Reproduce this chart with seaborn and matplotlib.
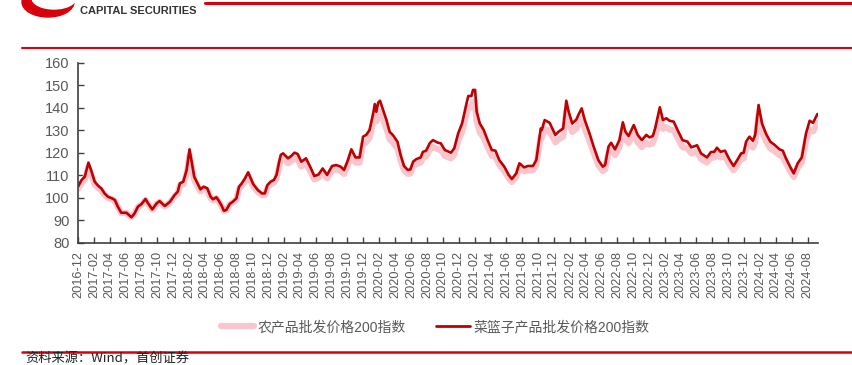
import matplotlib
matplotlib.use("Agg")
import matplotlib.pyplot as plt
import matplotlib.dates as mdates
from matplotlib.patches import Ellipse
import seaborn as sns
import pandas as pd

dates = [
    "2016-12-01","2016-12-15","2016-12-27","2017-01-10","2017-01-20","2017-02-03","2017-02-17","2017-02-28",
    "2017-03-13","2017-03-26","2017-04-11","2017-04-21","2017-05-03","2017-05-16","2017-06-05","2017-06-24",
    "2017-07-06","2017-07-19","2017-08-02","2017-08-17","2017-08-27","2017-09-12","2017-09-29","2017-10-10",
    "2017-10-30","2017-11-19","2017-12-07","2017-12-19","2017-12-27","2018-01-09","2018-01-22","2018-02-02",
    "2018-02-11","2018-02-20","2018-03-06","2018-03-16","2018-03-28","2018-04-11","2018-04-24","2018-05-03",
    "2018-05-16","2018-05-25","2018-06-04","2018-06-14","2018-06-23","2018-07-06","2018-07-18","2018-08-01",
    "2018-08-11","2018-08-20","2018-09-03","2018-09-15","2018-09-25","2018-10-04","2018-10-22","2018-11-07",
    "2018-11-18","2018-11-28","2018-12-10","2018-12-23","2019-01-02","2019-01-11","2019-01-18","2019-01-27",
    "2019-02-15","2019-02-27","2019-03-12","2019-03-24","2019-04-07","2019-04-25","2019-05-12","2019-05-27",
    "2019-06-12","2019-06-28","2019-07-15","2019-08-03","2019-08-19","2019-09-05","2019-09-18","2019-10-03",
    "2019-10-16","2019-11-01","2019-11-17","2019-11-30","2019-12-12","2019-12-25","2020-01-08","2020-01-14",
    "2020-01-20","2020-01-27","2020-02-03","2020-02-15","2020-02-28","2020-03-11","2020-03-23","2020-04-10",
    "2020-04-22","2020-05-05","2020-05-20","2020-05-30","2020-06-09","2020-06-21","2020-07-08","2020-07-17",
    "2020-07-29","2020-08-12","2020-08-24","2020-09-13","2020-09-23","2020-10-09","2020-11-01","2020-11-14",
    "2020-11-29","2020-12-14","2020-12-31","2021-01-07","2021-01-19","2021-01-25","2021-02-02","2021-02-08",
    "2021-02-20","2021-03-07","2021-03-22","2021-04-07","2021-04-21","2021-05-06","2021-05-25","2021-06-11",
    "2021-06-23","2021-07-10","2021-07-22","2021-08-09","2021-08-24","2021-09-12","2021-09-25","2021-10-12",
    "2021-10-16","2021-10-27","2021-11-15","2021-12-07","2021-12-19","2022-01-06","2022-01-18","2022-01-27",
    "2022-02-10","2022-02-26","2022-03-05","2022-03-18","2022-03-30","2022-04-17","2022-05-03","2022-05-21",
    "2022-06-07","2022-06-16","2022-06-29","2022-07-09","2022-07-24","2022-08-10","2022-08-23","2022-09-02",
    "2022-09-14","2022-10-04","2022-10-19","2022-11-04","2022-11-21","2022-12-03","2022-12-16","2022-12-25",
    "2023-01-12","2023-01-24","2023-02-06","2023-02-18","2023-03-06","2023-03-21","2023-04-09","2023-04-28",
    "2023-05-13","2023-06-04","2023-06-19","2023-07-12","2023-07-27","2023-08-09","2023-08-19","2023-09-02",
    "2023-09-19","2023-10-06","2023-10-22","2023-11-05","2023-11-20","2023-11-30","2023-12-09","2023-12-22",
    "2024-01-04","2024-01-13","2024-01-26","2024-02-08","2024-02-24","2024-03-11","2024-03-28","2024-04-15",
    "2024-04-28","2024-05-10","2024-05-27","2024-06-09","2024-06-24","2024-07-10","2024-07-26","2024-08-09",
    "2024-08-22","2024-09-08",
]

# 菜篮子产品批发价格200指数
basket_index = [
    104.9,107.9,109.3,115.6,112.3,107.1,105.2,104.2,101.9,100.4,99.7,99.0,96.0,93.3,93.3,91.3,
    93.0,96.0,97.2,99.4,97.5,94.8,97.5,98.5,96.3,98.2,101.2,102.7,106.4,107.1,112.3,121.5,
    115.3,109.3,106.0,103.7,104.9,104.2,100.4,99.3,100.2,98.7,96.7,94.2,94.5,97.2,98.2,99.7,
    104.9,106.1,108.6,111.3,108.6,106.1,103.4,101.9,101.9,105.6,107.1,107.9,110.1,115.3,119.0,119.7,
    117.5,118.5,120.0,119.4,116.0,117.5,113.5,109.6,110.3,113.0,110.1,114.1,114.5,113.8,112.3,116.7,
    121.5,117.9,117.9,127.1,127.9,130.1,137.5,141.6,138.2,142.2,143.1,139.0,134.5,129.3,127.9,124.9,
    119.0,114.1,112.3,112.6,116.0,117.1,117.9,120.4,120.9,124.2,125.6,124.4,124.2,121.2,120.0,121.9,
    128.6,133.0,141.9,145.2,145.2,147.9,147.9,138.2,133.0,130.1,125.6,121.2,120.9,116.7,113.8,110.1,
    108.3,110.8,115.3,113.5,114.1,114.1,116.7,130.8,130.1,134.5,133.3,127.9,129.3,130.8,143.1,138.2,
    133.0,134.8,136.7,139.7,134.5,128.6,122.7,116.7,113.8,114.5,122.7,124.4,121.5,125.6,133.5,129.3,
    127.4,132.3,127.9,125.6,127.9,126.8,127.4,130.8,140.2,134.5,135.3,134.2,133.8,130.1,125.6,124.9,
    122.4,123.3,119.7,117.9,120.3,120.4,122.2,120.4,120.9,117.0,114.1,116.7,119.7,120.0,124.9,127.1,
    125.3,127.9,141.2,133.0,128.3,124.9,123.4,121.5,120.9,117.5,113.5,110.8,115.3,117.9,128.6,134.2,
    133.3,137.2,
]

# 农产品批发价格200指数
farm_index = [
    103.9,106.6,107.9,113.6,110.6,105.9,104.2,103.3,101.2,99.9,99.2,98.6,95.9,93.2,93.2,91.4,
    92.9,95.8,97.0,99.0,97.2,94.7,97.2,98.2,96.1,97.9,100.6,101.9,105.3,105.9,110.6,118.9,
    113.3,107.9,104.9,102.8,103.9,103.3,99.9,98.9,99.7,98.3,96.5,94.2,94.4,97.0,97.9,99.2,
    103.9,105.0,107.2,109.7,107.2,105.0,102.6,101.2,101.2,104.5,105.9,106.6,108.6,113.3,116.6,117.2,
    115.3,116.2,117.5,117.0,113.9,115.3,111.7,108.1,108.8,111.2,108.6,112.2,112.6,111.9,110.6,114.5,
    118.9,115.6,115.6,123.9,124.6,126.6,133.3,137.0,133.9,137.5,138.3,134.6,130.6,125.9,124.6,121.9,
    116.6,112.2,110.6,110.8,113.9,114.9,115.6,117.9,118.3,121.3,122.5,121.5,121.3,118.6,117.5,119.2,
    125.2,129.2,137.2,140.2,140.2,142.6,142.6,133.9,129.2,126.6,122.5,118.6,118.3,114.5,111.9,108.6,
    107.0,109.2,113.3,111.7,112.2,112.2,114.5,127.2,126.6,130.6,129.5,124.6,125.9,127.2,138.3,133.9,
    129.2,130.8,132.5,135.2,130.6,125.2,120.0,114.5,111.9,112.6,120.0,121.5,118.9,122.5,129.6,125.9,
    124.2,128.6,124.6,122.5,124.6,123.6,124.2,127.2,135.7,130.6,131.3,130.3,129.9,126.6,122.5,121.9,
    119.7,120.5,117.2,115.6,117.8,117.9,119.5,117.9,118.3,114.8,112.2,114.5,117.2,117.5,121.9,123.9,
    122.3,124.6,136.6,129.2,125.0,121.9,120.6,118.9,118.3,115.3,111.7,109.2,113.3,115.6,125.2,130.3,
    129.5,133.2,
]

series_names = ["农产品批发价格200指数", "菜篮子产品批发价格200指数"]
y_ticks = [80, 90, 100, 110, 120, 130, 140, 150, 160]
source_text = "资料来源：Wind，首创证券"
logo_text = "CAPITAL SECURITIES"

sns.set_theme(style="white")
plt.rcParams["font.family"] = ["Liberation Sans", "Noto Sans CJK SC", "DejaVu Sans"]

df = pd.DataFrame({
    "date": pd.to_datetime(dates),
    series_names[0]: farm_index,
    series_names[1]: basket_index,
})

fig = plt.figure(figsize=(8.53, 3.65), dpi=100)
ax = fig.add_axes([78 / 853, 1 - 242.7 / 365, (818 - 78) / 853, (242.7 - 62.7) / 365])

sns.lineplot(data=df, x="date", y=series_names[0], ax=ax, color="#F9C6CE",
             linewidth=4.5, label=series_names[0], solid_capstyle="round")
sns.lineplot(data=df, x="date", y=series_names[1], ax=ax, color="#C00000",
             linewidth=1.9, label=series_names[1])

ax.set_ylim(80, 160)
ax.set_yticks(y_ticks)
ax.set_xlim(pd.Timestamp("2016-12-01"), pd.Timestamp("2024-09-10"))
ax.xaxis.set_major_locator(mdates.MonthLocator(bymonth=(2, 4, 6, 8, 10, 12)))
ax.xaxis.set_major_formatter(mdates.DateFormatter("%Y-%m"))
ax.set_xlabel("")
ax.set_ylabel("")

for s in ["top", "right"]:
    ax.spines[s].set_visible(False)
for s in ["left", "bottom"]:
    ax.spines[s].set_color("#404040")
    ax.spines[s].set_linewidth(1.2)

ax.tick_params(axis="both", direction="in", length=4, width=1, color="#404040",
               labelcolor="#595959")
ax.tick_params(axis="y", labelsize=10.5, pad=6)
ax.tick_params(axis="x", labelsize=9.2, rotation=90, pad=6, bottom=True)
ax.tick_params(axis="y", left=True)

leg = ax.legend(loc="center", bbox_to_anchor=(0.510, 0.104), bbox_transform=fig.transFigure,
                ncol=2, frameon=False, fontsize=10, handlelength=2.4, handletextpad=0.25,
                columnspacing=2.2, labelcolor="#595959")
leg.get_lines()[0].set_linewidth(4.5)
leg.get_lines()[1].set_linewidth(2.0)

# Header decorations
fig.add_artist(plt.Line2D([205 / 853, 1], [1 - 3.3 / 365] * 2, color="#D9000D", linewidth=2.2))
fig.add_artist(plt.Line2D([22 / 853, 1], [1 - 47.5 / 365] * 2, color="#D9000D", linewidth=1.5))
fig.add_artist(plt.Line2D([22 / 853, 1], [1 - 352 / 365] * 2, color="#D9000D", linewidth=1.8))
fig.add_artist(Ellipse((48 / 853, 1 - 2 / 365), 52 / 853, 30 / 365, color="#D9000D", zorder=1))
fig.add_artist(Ellipse((54 / 853, 1 + 2 / 365), 44 / 853, 22 / 365, color="white", zorder=2))
fig.text(80 / 853, 1 - 11 / 365, logo_text, fontsize=8, fontweight="bold", color="#333333",
         va="center", ha="left", family=["Liberation Sans"])
fig.text(25 / 853, 1 - 362.5 / 365, source_text, fontsize=9.5, color="#222222", va="baseline",
         ha="left", style="italic", family=["Noto Sans CJK SC", "DejaVu Sans"])

fig.savefig("out.png", dpi=100)
